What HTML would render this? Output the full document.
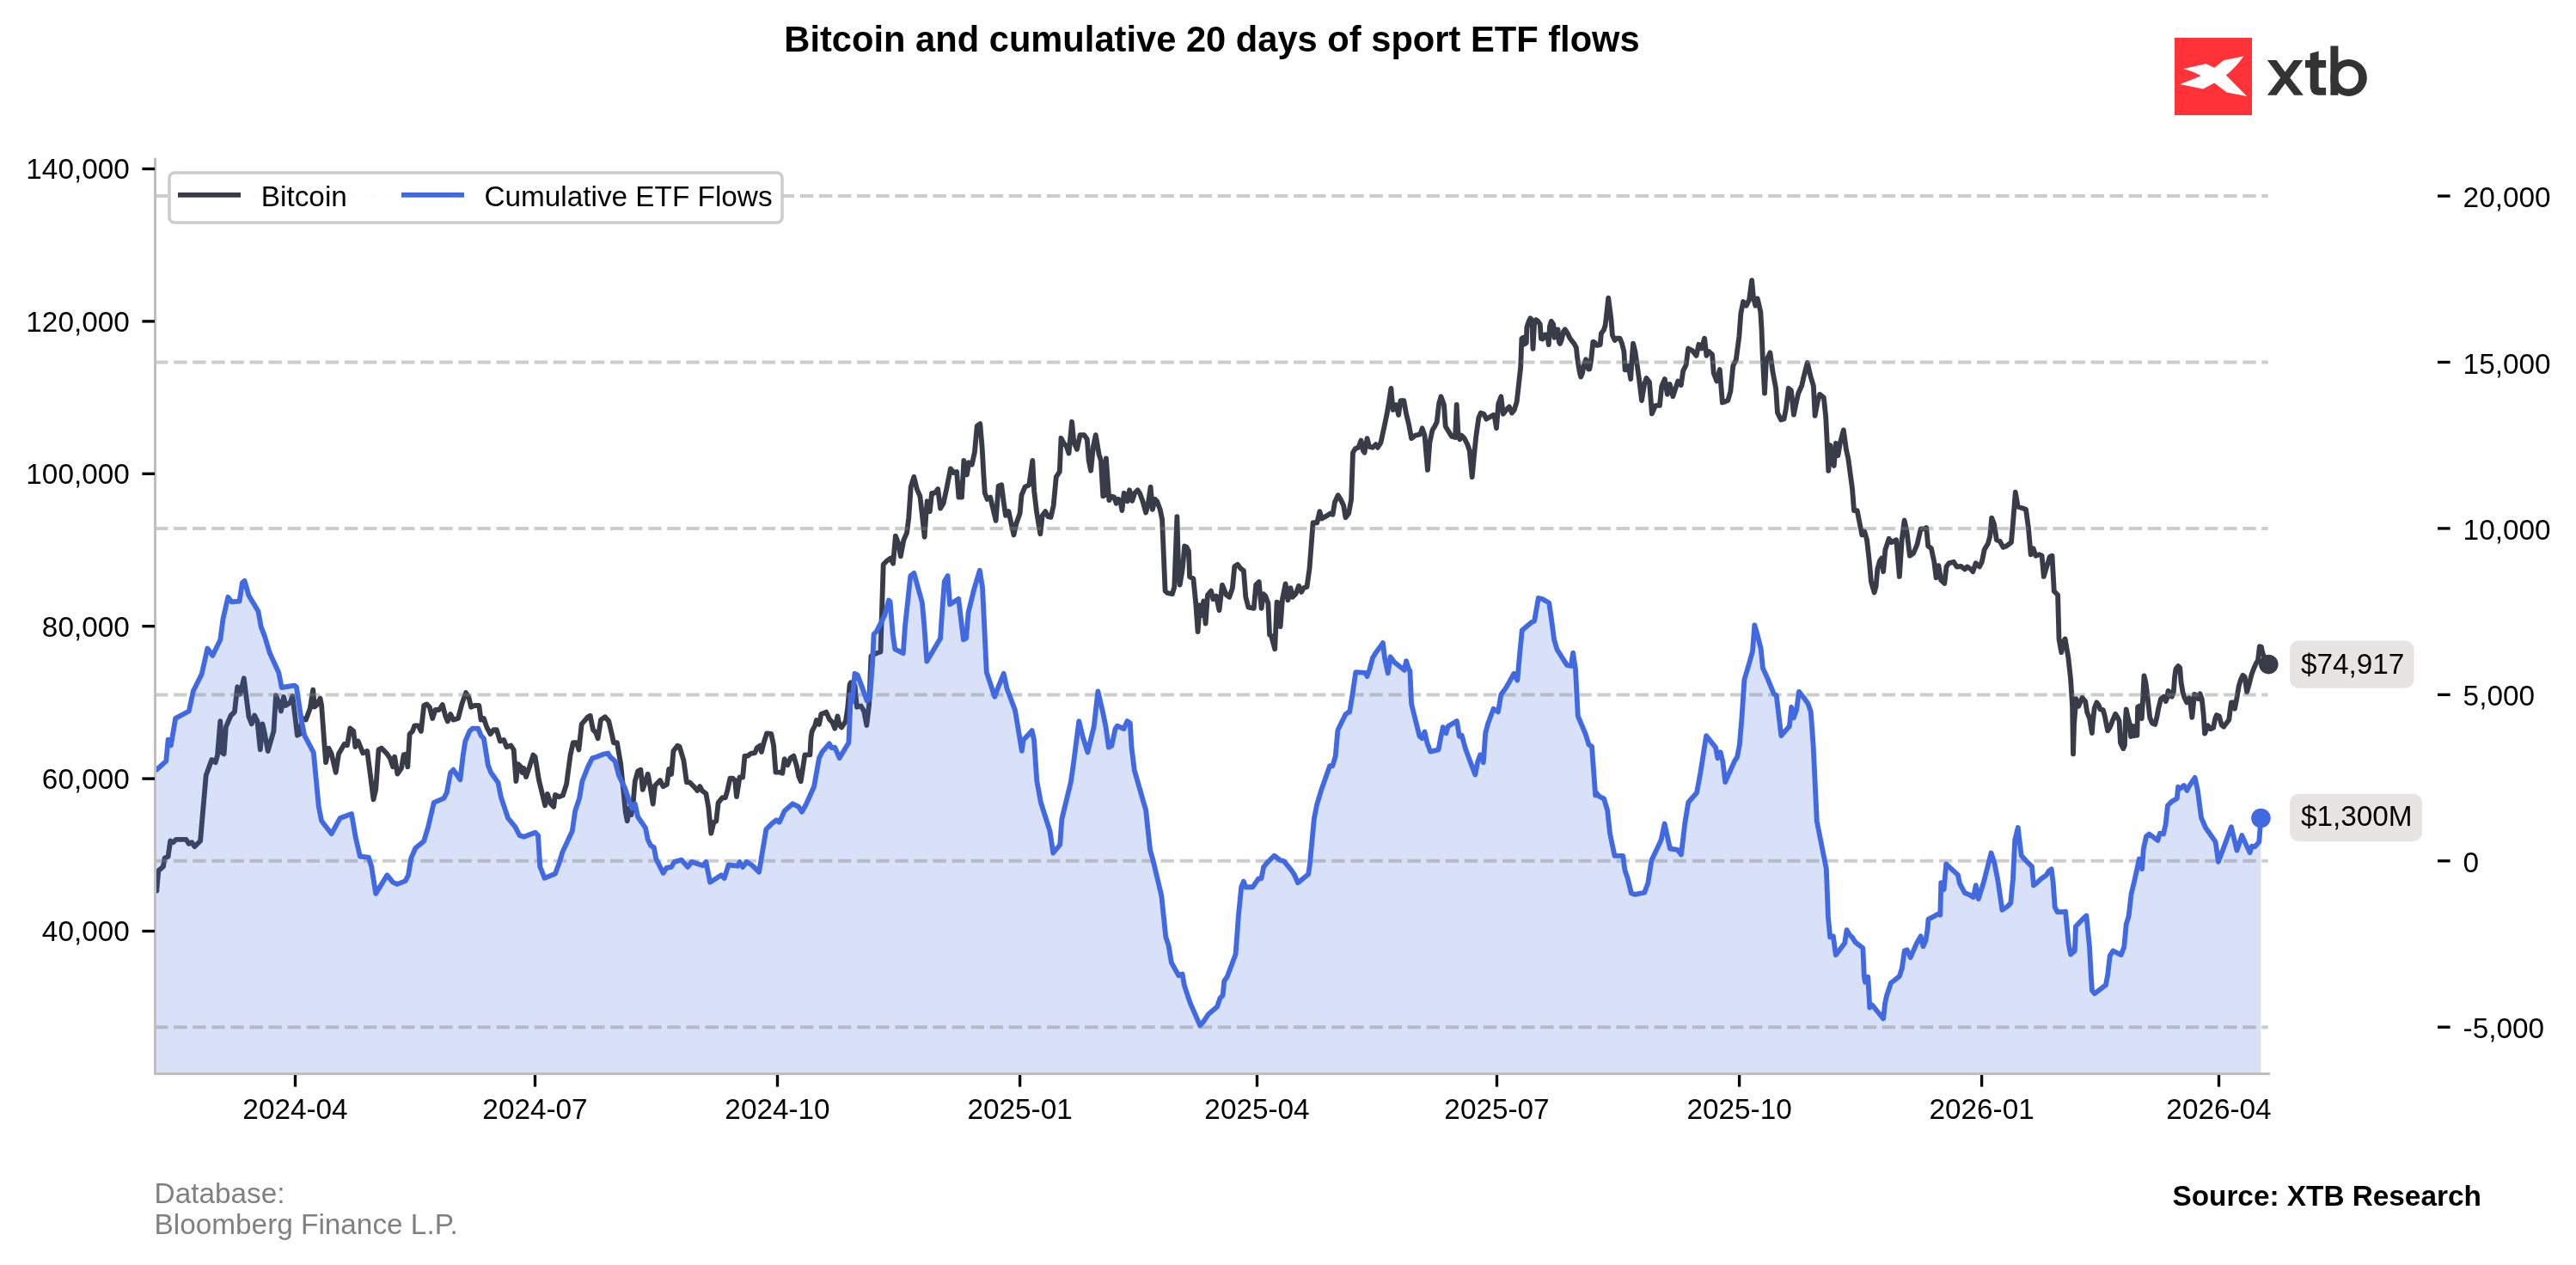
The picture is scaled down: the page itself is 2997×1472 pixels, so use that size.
<!DOCTYPE html>
<html><head><meta charset="utf-8"><title>Bitcoin and cumulative ETF flows</title>
<style>html,body{margin:0;padding:0;background:#fff;} svg{display:block;will-change:transform;}</style>
</head><body>
<svg width="2997" height="1472" viewBox="0 0 2997 1472">
<rect width="2997" height="1472" fill="#ffffff"/>
<text x="1410" y="60.2" text-anchor="middle" font-family='"Liberation Sans", sans-serif' font-weight="bold" font-size="41.67" fill="#000">Bitcoin and cumulative 20 days of sport ETF flows</text>
<rect x="2530" y="44" width="90" height="90" fill="#fe3237"/>
<path d="M2540.19,79.91 L2566.51,74.22 L2576.23,78.73 L2587.37,69.96 L2610.13,65.45 Q2601.65,78.14 2589.74,87.50 L2614.16,111.92 L2590.69,107.42 L2576.23,96.51 L2563.19,103.62 L2536.16,97.93 Q2549,93.5 2560.82,87.98 Q2551,82.5 2540.19,79.91 Z" fill="#ffffff"/>
<g fill="#333333"><polygon points="2637.8,70.1 2648.5,70.1 2658.6,83.8 2668.6,70.1 2679.3,70.1 2664.2,90.5 2679.9,110.8 2669.1,110.8 2658.6,96.9 2648.5,110.8 2637.8,110.8 2653.1,90.5"/><polygon points="2687.7,62.2 2697.6,59.6 2697.6,70.1 2706.1,70.1 2706.1,78.8 2697.6,78.8 2697.6,100.4 2698.2,101.5 2699.4,102.1 2706.1,102.1 2706.1,110.8 2696.8,110.8 2692.2,109.7 2689.2,106.8 2687.7,101.5 2687.7,78.8 2682.0,78.8 2682.0,70.1 2687.7,70.1"/><path d="M2711.4,53.4 L2720.4,53.4 L2720.4,110.8 L2711.4,110.8 Z"/><path fill-rule="evenodd" d="M2711.2,90.5 a21.3,21.5 0 1,0 42.6,0 a21.3,21.5 0 1,0 -42.6,0 Z M2720.4,90.3 a11.8,12.1 0 1,1 23.5,0 a11.8,12.1 0 1,1 -23.5,0 Z"/></g>
<path d="M180.5,1036.6 L182.3,1036.6 L184.3,1013.3 L189.9,1008.4 L191.6,998.4 L195.6,996.7 L198.2,978.5 L201.5,980.2 L204.9,976.8 L216.5,976.8 L219.8,981.8 L223.1,980.2 L226.4,985.1 L233.1,978.5 L239.7,902.2 L246.3,883.9 L250.7,887.2 L253.0,878.9 L256.3,839.1 L258.0,875.6 L260.6,877.3 L262.9,845.8 L268.6,832.5 L272.9,828.5 L276.2,799.3 L279.5,807.6 L283.8,789.3 L289.5,834.1 L292.8,842.4 L296.1,832.5 L299.4,839.1 L302.8,872.3 L305.4,842.4 L307.7,852.4 L311.7,874.0 L318.4,850.7 L321.0,809.2 L325.0,819.2 L327.0,827.5 L330.0,810.9 L332.6,820.9 L337.6,817.5 L340.3,809.9 L343.6,835.8 L345.9,855.7 L349.2,854.0 L351.5,835.8 L355.9,837.5 L360.8,824.2 L364.2,802.6 L365.8,822.5 L368.1,820.9 L372.5,812.6 L374.1,820.9 L377.4,865.7 L379.1,887.2 L382.4,870.6 L385.7,877.3 L390.7,898.8 L394.0,877.3 L400.7,865.7 L404.0,867.3 L407.3,847.4 L411.3,850.7 L413.3,869.0 L416.6,862.3 L420.6,872.3 L422.2,876.3 L427.2,874.0 L430.5,898.8 L434.5,930.4 L437.2,918.8 L440.5,872.3 L443.8,870.6 L450.4,877.3 L453.8,882.3 L457.1,892.2 L459.1,880.6 L462.4,900.5 L467.0,893.9 L469.7,878.3 L470.6,878.5 L472.3,877.5 L474.3,892.4 L476.6,854.2 L479.9,850.9 L482.3,844.3 L486.6,844.3 L489.9,850.9 L493.2,821.0 L496.5,819.4 L499.8,822.7 L503.2,836.0 L506.5,826.0 L510.8,826.0 L514.8,820.0 L518.1,832.7 L520.8,839.3 L524.1,831.0 L527.4,837.6 L533.0,836.0 L537.3,819.4 L542.0,806.1 L545.3,811.1 L548.0,822.7 L551.9,821.0 L557.3,821.0 L559.6,837.6 L562.9,836.0 L566.2,845.9 L570.5,854.2 L574.5,849.2 L577.8,849.2 L581.8,862.5 L586.1,860.9 L589.4,869.2 L594.4,867.5 L597.7,872.5 L600.4,909.0 L602.7,889.1 L606.0,892.4 L607.7,899.0 L609.4,894.0 L612.0,904.0 L616.0,892.4 L620.3,878.5 L622.6,880.8 L626.9,907.3 L630.9,923.9 L634.2,937.2 L636.9,923.9 L640.9,935.5 L644.2,938.8 L645.9,924.9 L650.2,927.2 L654.8,925.6 L659.1,912.3 L663.5,879.1 L666.8,864.2 L670.8,864.2 L673.4,872.5 L676.7,842.6 L684.0,834.3 L686.7,832.7 L690.0,849.2 L693.3,852.6 L695.6,859.2 L699.0,837.6 L703.9,834.3 L708.3,839.3 L712.2,855.9 L713.9,864.2 L717.9,864.2 L722.2,889.1 L724.5,912.3 L727.8,945.5 L729.8,955.4 L732.1,940.5 L734.5,948.1 L736.5,935.5 L738.8,909.0 L742.1,897.4 L745.4,895.7 L747.7,918.9 L751.1,909.0 L753.7,900.7 L755.4,909.0 L759.7,935.5 L762.1,914.0 L768.0,908.1 L771.6,915.2 L775.9,912.8 L778.2,895.0 L781.1,900.9 L783.5,873.7 L788.2,867.7 L790.6,868.9 L795.3,884.3 L798.9,910.4 L802.4,910.4 L807.2,915.2 L811.2,919.9 L814.3,915.2 L816.7,919.9 L821.4,923.5 L824.2,938.9 L827.3,969.7 L830.4,956.7 L833.3,955.5 L835.6,934.2 L840.4,928.2 L843.9,928.2 L846.3,919.9 L849.4,905.7 L852.7,905.7 L855.1,908.1 L857.0,927.0 L860.5,904.5 L864.1,904.5 L866.5,879.6 L870.0,879.6 L873.6,876.8 L878.3,876.0 L880.7,870.1 L884.2,867.7 L885.9,874.9 L889.0,863.0 L892.1,853.5 L897.3,854.0 L900.1,867.7 L902.5,898.6 L906.8,898.6 L910.3,899.8 L912.7,883.2 L916.3,890.3 L919.8,882.0 L923.4,879.6 L926.9,891.5 L929.3,903.3 L931.7,909.2 L934.1,893.8 L936.4,878.4 L942.4,878.4 L943.5,858.3 L944.7,851.1 L948.3,844.0 L949.9,838.1 L953.0,842.8 L955.4,831.0 L961.3,828.6 L964.9,836.9 L968.4,840.5 L971.3,847.6 L974.4,833.4 L976.7,844.0 L979.1,846.4 L983.9,839.3 L986.2,823.9 L988.6,796.6 L989.8,794.2 L994.5,797.8 L996.9,822.7 L1001.6,821.5 L1005.2,827.4 L1008.3,844.0 L1011.1,820.3 L1013.5,763.3 L1019.8,760.1 L1024.5,758.5 L1027.7,656.8 L1032.4,652.1 L1036.0,649.7 L1039.1,655.7 L1041.9,623.6 L1045.5,633.1 L1047.8,647.4 L1051.4,628.4 L1055.0,620.1 L1057.3,602.3 L1059.7,566.7 L1063.3,554.9 L1066.8,569.1 L1070.4,577.4 L1072.7,597.5 L1075.6,624.8 L1077.5,597.5 L1078.7,583.3 L1081.8,595.2 L1084.1,573.8 L1087.0,573.8 L1089.3,571.5 L1091.2,569.1 L1094.1,591.6 L1097.6,585.7 L1101.2,569.1 L1105.9,545.4 L1109.5,550.1 L1113.1,548.9 L1115.4,578.6 L1119.0,578.6 L1121.4,535.9 L1124.9,552.5 L1127.3,538.3 L1130.8,540.6 L1133.9,526.4 L1136.8,495.6 L1140.3,493.2 L1142.7,521.7 L1144.4,552.5 L1145.8,573.8 L1148.6,580.9 L1152.2,578.6 L1154.6,589.2 L1158.6,605.8 L1161.7,565.5 L1165.2,564.3 L1167.6,583.3 L1170.0,599.9 L1173.5,595.2 L1176.6,609.4 L1179.5,622.5 L1182.3,609.4 L1186.6,597.5 L1188.5,576.2 L1192.5,566.7 L1197.3,564.3 L1201.3,535.9 L1203.2,571.5 L1206.0,595.2 L1210.3,621.3 L1212.7,599.9 L1216.2,595.2 L1219.3,601.1 L1222.6,601.8 L1225.7,588.1 L1228.8,554.9 L1232.8,548.9 L1234.5,509.8 L1237.6,515.7 L1240.7,519.3 L1243.5,527.6 L1247.1,490.8 L1249.4,514.5 L1253.0,522.8 L1256.5,506.2 L1261.3,506.2 L1264.8,511.0 L1266.7,535.9 L1269.1,547.7 L1272.0,519.3 L1274.8,506.2 L1278.6,528.8 L1280.9,535.9 L1283.3,577.4 L1285.7,576.2 L1286.9,533.5 L1288.8,559.6 L1290.4,582.1 L1292.8,577.4 L1296.3,578.6 L1298.7,585.7 L1301.1,580.9 L1303.5,583.3 L1305.4,594.0 L1307.7,573.8 L1310.1,576.2 L1311.8,583.3 L1314.1,570.3 L1317.2,582.8 L1320.1,573.8 L1323.6,570.3 L1326.0,573.8 L1329.5,583.3 L1333.1,596.4 L1335.5,588.1 L1338.6,566.7 L1340.9,592.8 L1343.8,580.9 L1346.1,583.3 L1349.7,592.8 L1352.1,604.7 L1355.6,687.7 L1358.0,690.0 L1363.9,691.2 L1366.3,682.9 L1369.4,601.1 L1371.0,659.2 L1372.7,680.6 L1375.8,661.6 L1378.2,635.5 L1380.5,636.7 L1382.9,641.4 L1384.1,671.1 L1388.4,673.4 L1391.2,701.9 L1393.6,735.1 L1395.9,704.3 L1398.3,716.1 L1400.2,699.5 L1402.6,725.6 L1405.0,692.4 L1409.0,687.7 L1411.4,697.2 L1414.9,693.6 L1418.5,710.2 L1422.0,680.6 L1426.8,692.4 L1430.3,694.8 L1433.9,684.1 L1436.3,659.2 L1439.8,656.8 L1443.4,661.6 L1446.9,664.0 L1449.3,694.8 L1452.4,706.6 L1458.8,707.8 L1461.2,680.6 L1464.7,677.0 L1467.6,707.8 L1469.9,691.2 L1472.3,693.6 L1475.4,701.9 L1477.1,738.7 L1479.0,739.8 L1483.2,755.3 L1485.6,700.7 L1488.0,701.9 L1489.6,729.2 L1492.0,697.2 L1495.6,679.4 L1498.4,698.3 L1501.5,684.1 L1503.9,694.8 L1507.4,691.2 L1511.0,681.7 L1514.1,688.9 L1516.9,684.1 L1520.5,682.9 L1523.5,661.6 L1527.6,608.2 L1532.3,608.2 L1535.4,595.2 L1537.8,603.5 L1544.2,599.9 L1547.7,597.5 L1550.6,598.7 L1552.9,584.5 L1556.7,576.2 L1559.6,580.9 L1563.1,588.1 L1565.5,602.3 L1569.1,597.5 L1572.1,581.3 L1574.0,526.7 L1576.9,522.0 L1580.4,520.8 L1583.5,512.5 L1585.9,524.3 L1587.5,526.7 L1590.6,510.1 L1593.0,519.6 L1597.0,520.8 L1600.6,517.2 L1602.9,520.8 L1606.5,514.9 L1610.1,498.3 L1613.6,481.7 L1616.0,467.4 L1618.4,452.0 L1620.7,476.9 L1624.3,471.0 L1627.1,482.8 L1629.5,466.2 L1633.3,466.2 L1636.1,481.7 L1639.0,493.5 L1642.1,510.1 L1646.8,506.6 L1652.3,505.4 L1654.6,498.3 L1657.5,506.6 L1659.4,529.1 L1661.0,546.9 L1663.4,514.9 L1666.5,500.6 L1669.3,495.9 L1671.7,491.1 L1674.1,469.8 L1676.5,461.5 L1680.0,471.0 L1681.7,495.9 L1685.9,503.0 L1688.8,507.7 L1693.1,508.9 L1694.7,471.0 L1696.6,507.7 L1698.3,511.3 L1700.2,506.6 L1703.7,510.1 L1707.3,517.2 L1709.7,524.3 L1712.7,555.2 L1714.9,531.5 L1717.3,507.7 L1720.3,486.4 L1722.7,480.5 L1726.3,481.7 L1729.3,487.6 L1733.4,485.2 L1737.6,482.8 L1739.3,487.6 L1741.0,498.3 L1743.3,469.8 L1746.4,461.5 L1748.8,481.7 L1752.4,476.9 L1755.9,473.4 L1759.0,480.5 L1761.8,476.9 L1764.7,467.4 L1769.2,427.2 L1770.4,394.0 L1772.2,392.8 L1773.4,400.6 L1775.8,398.8 L1776.3,381.0 L1778.7,373.9 L1780.5,370.3 L1782.3,372.7 L1783.5,405.9 L1785.2,375.1 L1787.0,372.1 L1789.4,373.9 L1791.8,377.4 L1792.9,394.0 L1794.7,394.6 L1797.7,389.3 L1800.1,389.3 L1801.8,401.1 L1803.0,379.8 L1804.8,373.9 L1807.2,377.4 L1808.4,392.8 L1810.1,383.4 L1812.5,383.4 L1813.7,397.6 L1814.9,400.0 L1816.7,395.8 L1819.0,385.7 L1820.8,383.4 L1823.2,386.9 L1826.1,392.8 L1828.5,396.4 L1831.5,400.0 L1833.9,404.7 L1835.0,415.4 L1836.2,423.7 L1838.0,434.3 L1839.2,438.5 L1841.0,434.3 L1842.7,424.9 L1845.1,418.3 L1846.9,423.7 L1848.1,429.6 L1849.3,429.6 L1851.0,420.1 L1853.4,397.6 L1855.8,398.8 L1857.0,401.7 L1859.3,401.7 L1861.7,401.1 L1862.9,388.1 L1864.1,386.3 L1865.9,384.0 L1867.6,378.6 L1868.8,369.1 L1871.2,346.6 L1874.4,371.1 L1875.9,390.1 L1878.7,396.0 L1881.1,393.7 L1884.6,393.7 L1887.0,399.6 L1889.4,409.1 L1890.6,430.4 L1892.9,430.4 L1894.8,425.7 L1897.2,441.1 L1898.9,413.8 L1900.1,399.6 L1902.4,409.1 L1904.8,425.7 L1907.2,442.3 L1910.0,466.0 L1913.1,447.0 L1915.5,439.9 L1919.0,444.7 L1921.9,481.4 L1926.1,471.9 L1930.9,471.9 L1933.3,449.4 L1936.8,441.1 L1939.9,458.9 L1942.7,447.0 L1946.3,461.3 L1949.4,451.8 L1952.2,443.5 L1955.8,448.2 L1958.2,431.6 L1961.7,424.5 L1964.1,405.5 L1968.8,407.9 L1973.6,413.8 L1976.4,400.8 L1979.5,405.5 L1983.1,393.7 L1985.4,413.8 L1988.3,409.1 L1992.1,412.6 L1993.7,434.0 L1997.3,443.5 L2000.8,430.0 L2003.9,468.4 L2010.3,466.0 L2013.4,455.3 L2016.3,425.7 L2019.8,418.6 L2023.4,391.3 L2025.3,365.2 L2028.1,351.0 L2031.7,355.7 L2035.2,348.6 L2038.1,326.1 L2040.0,346.2 L2042.4,355.7 L2044.7,347.4 L2048.3,362.8 L2049.5,383.0 L2050.7,413.8 L2053.0,457.7 L2054.7,423.3 L2056.6,416.2 L2059.4,410.3 L2062.5,432.8 L2066.1,451.8 L2068.0,480.2 L2072.0,488.5 L2075.6,487.4 L2077.9,475.5 L2080.8,451.8 L2083.9,454.2 L2086.9,482.6 L2089.3,470.8 L2092.2,457.7 L2096.4,448.2 L2098.8,437.5 L2102.8,422.1 L2106.4,437.5 L2109.9,449.4 L2111.6,483.8 L2114.7,467.2 L2117.1,458.9 L2121.8,462.5 L2124.2,485.0 L2125.4,508.7 L2127.3,547.8 L2129.6,518.2 L2131.3,537.2 L2133.7,541.9 L2136.0,515.8 L2138.4,530.0 L2140.8,515.8 L2144.8,500.4 L2147.9,522.9 L2150.3,533.6 L2155.0,568.5 L2157.0,594.1 L2160.7,594.1 L2163.5,608.3 L2166.3,622.5 L2169.2,618.3 L2172.0,628.2 L2174.9,653.9 L2176.9,676.6 L2180.6,689.4 L2182.6,682.3 L2184.3,662.4 L2187.1,652.4 L2189.1,649.6 L2191.1,665.2 L2193.4,639.6 L2197.7,626.8 L2200.5,631.1 L2206.2,628.2 L2209.9,670.9 L2212.7,628.2 L2215.6,605.5 L2218.4,618.3 L2221.9,646.7 L2226.1,643.9 L2230.4,633.9 L2234.7,615.4 L2238.9,615.4 L2241.2,614.0 L2243.2,635.4 L2246.9,638.2 L2250.3,653.9 L2252.6,672.4 L2255.4,658.1 L2258.3,675.2 L2262.3,678.9 L2264.5,659.5 L2267.4,655.3 L2273.1,653.9 L2276.5,659.5 L2281.6,659.0 L2285.9,662.4 L2288.7,659.5 L2293.0,662.4 L2295.3,665.2 L2298.7,655.3 L2303.0,659.5 L2305.8,653.9 L2308.7,639.6 L2312.9,632.5 L2315.2,624.0 L2317.2,602.6 L2320.0,609.7 L2322.9,628.2 L2326.6,629.7 L2330.6,636.8 L2334.3,635.4 L2340.0,631.1 L2342.0,608.3 L2344.8,572.7 L2347.7,589.8 L2352.8,591.2 L2357.0,592.7 L2359.9,614.0 L2362.7,645.3 L2365.6,638.2 L2368.4,646.7 L2372.7,645.3 L2375.6,646.7 L2377.8,670.9 L2381.2,659.5 L2384.7,648.2 L2387.5,646.7 L2389.8,688.0 L2394.1,692.3 L2395.5,743.5 L2398.3,759.2 L2400.6,746.4 L2402.6,743.5 L2406.3,764.9 L2409.1,790.5 L2411.1,821.8 L2412.0,877.3 L2413.1,841.7 L2415.4,813.2 L2418.2,821.8 L2422.5,811.8 L2426.2,816.1 L2428.2,828.9 L2431.1,836.0 L2433.9,853.1 L2434.7,841.5 L2436.7,824.1 L2439.4,817.4 L2442.1,821.4 L2443.4,825.4 L2446.8,826.1 L2448.8,833.5 L2452.2,850.3 L2454.9,846.2 L2458.2,837.5 L2461.2,830.8 L2463.6,834.8 L2465.6,838.9 L2467.0,864.4 L2470.3,871.1 L2471.9,867.1 L2473.0,836.2 L2473.7,825.4 L2475.7,834.8 L2477.7,842.2 L2479.1,857.0 L2481.1,844.9 L2482.7,856.3 L2484.4,844.9 L2486.4,855.7 L2487.1,822.7 L2489.8,821.4 L2491.8,836.2 L2493.2,812.0 L2494.5,786.4 L2496.5,794.5 L2498.5,810.6 L2501.2,834.8 L2503.9,841.5 L2507.3,842.9 L2509.3,834.8 L2511.3,824.1 L2514.0,813.3 L2517.4,810.6 L2519.8,816.0 L2521.4,812.0 L2522.5,803.9 L2524.1,805.3 L2526.8,810.6 L2528.8,805.3 L2530.1,787.8 L2531.5,778.4 L2534.2,775.0 L2536.2,777.0 L2537.5,793.2 L2539.5,805.3 L2541.5,812.0 L2544.2,817.4 L2546.9,812.0 L2548.3,817.4 L2550.3,834.8 L2551.6,822.7 L2553.0,807.9 L2556.3,809.3 L2557.9,813.3 L2559.7,807.3 L2561.7,813.3 L2563.7,832.1 L2565.1,853.6 L2567.1,848.3 L2568.7,844.2 L2571.8,848.3 L2575.1,846.9 L2577.2,836.2 L2578.9,832.1 L2581.9,833.5 L2584.6,843.6 L2587.2,845.6 L2591.3,840.2 L2593.3,837.5 L2594.6,826.8 L2596.0,817.4 L2598.7,817.4 L2600.0,824.7 L2602.7,810.6 L2604.7,798.5 L2607.1,790.5 L2609.4,785.8 L2611.7,787.8 L2614.1,805.3 L2616.8,795.9 L2619.5,785.1 L2622.2,777.7 L2624.9,771.7 L2626.9,769.0 L2628.9,752.2 L2630.9,752.8 L2632.3,759.6 L2634.3,764.9 L2639.3,773.1" fill="none" stroke="#383c48" stroke-width="5.85" stroke-linejoin="round" stroke-linecap="butt"/>
<path d="M180.5,895.5 L182.3,895.5 L193.3,885.6 L195.6,860.7 L198.9,867.3 L204.2,835.8 L219.8,827.5 L224.8,804.3 L234.7,784.4 L241.4,754.5 L247.3,762.8 L256.3,744.5 L259.6,719.6 L265.3,694.8 L269.6,700.4 L278.5,699.7 L281.9,678.2 L284.5,675.8 L289.5,693.1 L300.4,711.3 L303.8,729.6 L307.7,739.6 L313.7,759.5 L324.3,782.7 L327.7,800.0 L342.6,797.6 L344.9,799.3 L350.9,839.1 L354.2,855.7 L364.8,875.6 L370.8,938.7 L374.1,955.3 L385.7,970.2 L395.7,951.9 L409.0,947.0 L413.9,975.2 L418.9,996.7 L428.9,997.7 L432.2,1008.4 L437.2,1039.9 L450.4,1018.3 L457.1,1026.6 L462.1,1028.9 L471.6,1025.1 L475.0,1018.5 L478.3,998.6 L483.3,987.0 L493.2,978.7 L498.2,962.1 L504.8,933.9 L516.4,928.9 L519.8,922.3 L524.1,899.0 L527.4,895.7 L535.4,907.3 L538.7,879.1 L541.3,862.5 L546.3,850.9 L549.6,847.6 L556.3,847.6 L559.6,855.9 L562.9,859.2 L567.9,890.7 L571.2,899.0 L579.5,910.6 L582.8,927.2 L591.1,952.1 L599.4,962.1 L604.4,972.0 L609.4,973.7 L622.6,968.7 L626.0,972.0 L628.3,1008.5 L633.6,1021.8 L645.9,1016.8 L650.8,1003.6 L654.2,991.9 L665.8,967.1 L669.1,943.8 L674.1,928.9 L677.4,909.0 L684.0,892.4 L689.0,882.4 L694.0,880.8 L702.3,877.5 L707.3,876.5 L709.9,880.8 L715.6,885.8 L719.9,902.3 L727.2,917.3 L732.1,932.2 L735.5,940.5 L738.8,935.5 L742.1,950.5 L751.1,963.7 L753.7,977.0 L757.0,983.7 L760.9,986.3 L763.3,999.4 L771.6,1016.0 L775.2,1010.0 L781.1,1008.9 L784.6,1002.9 L792.9,1000.6 L800.1,1008.9 L804.8,1002.9 L817.8,1007.2 L821.4,1002.9 L826.1,1026.6 L839.2,1018.3 L842.7,1021.9 L847.5,1006.5 L858.2,1007.7 L860.5,1002.9 L864.1,1008.9 L868.8,1002.9 L875.9,1007.7 L883.1,1014.8 L891.4,965.0 L897.3,959.1 L903.2,954.3 L906.8,956.7 L912.7,943.6 L922.2,935.3 L929.3,938.9 L932.9,944.8 L937.6,936.5 L947.1,915.2 L953.0,882.0 L956.6,874.9 L964.9,865.4 L967.3,870.1 L971.3,869.6 L976.7,882.0 L987.4,864.2 L989.8,808.5 L991.3,817.0 L994.5,783.8 L997.6,785.4 L1002.4,798.1 L1008.7,815.4 L1011.9,812.3 L1015.0,772.8 L1016.6,738.0 L1019.8,734.8 L1029.3,715.9 L1034.0,698.5 L1035.6,700.1 L1038.7,738.0 L1041.3,755.4 L1050.8,760.1 L1053.0,728.5 L1059.3,670.0 L1063.4,666.9 L1072.9,701.6 L1075.1,725.4 L1078.3,769.6 L1094.1,742.7 L1095.6,719.0 L1098.8,676.4 L1102.6,670.0 L1105.1,703.2 L1115.2,696.9 L1120.9,744.3 L1124.1,742.7 L1126.6,712.7 L1133.6,684.3 L1139.9,663.7 L1143.1,684.3 L1147.8,782.3 L1157.3,810.7 L1162.0,798.1 L1167.7,783.8 L1171.5,801.2 L1181.0,826.5 L1188.9,873.9 L1190.5,861.3 L1200.6,850.2 L1203.1,861.3 L1206.3,908.7 L1211.0,934.0 L1221.5,967.2 L1225.3,992.5 L1233.2,983.0 L1235.4,953.0 L1245.8,910.3 L1249.0,888.2 L1255.3,839.2 L1260.0,858.1 L1265.4,875.5 L1272.7,845.5 L1277.4,804.4 L1283.3,829.8 L1286.6,846.4 L1289.9,869.6 L1293.3,867.9 L1297.6,848.0 L1299.9,844.7 L1307.5,848.0 L1311.5,839.1 L1314.8,841.4 L1316.5,869.6 L1319.8,896.2 L1326.4,919.4 L1333.1,942.6 L1338.1,989.1 L1341.4,1000.7 L1351.3,1042.2 L1356.3,1090.3 L1359.6,1100.2 L1362.9,1120.2 L1371.2,1135.1 L1375.6,1133.4 L1377.9,1146.7 L1384.5,1166.6 L1396.1,1193.2 L1399.4,1189.8 L1406.1,1179.9 L1416.0,1171.6 L1419.4,1161.6 L1422.7,1158.3 L1424.3,1141.7 L1427.7,1136.7 L1437.6,1110.2 L1440.9,1065.4 L1444.2,1032.2 L1446.9,1025.6 L1449.2,1032.2 L1457.5,1032.2 L1464.2,1022.3 L1467.5,1022.3 L1470.1,1009.0 L1474.1,1004.0 L1482.4,995.7 L1489.0,1000.7 L1494.0,1002.3 L1502.3,1012.3 L1505.6,1017.3 L1510.0,1027.2 L1522.2,1017.3 L1523.9,1005.7 L1528.9,952.6 L1532.2,936.0 L1537.2,919.4 L1547.1,891.2 L1550.4,891.2 L1553.8,879.6 L1556.4,849.7 L1560.4,841.4 L1565.4,831.4 L1569.7,828.1 L1570.2,828.4 L1573.3,809.4 L1577.3,782.1 L1588.2,782.8 L1590.6,786.9 L1593.5,778.6 L1597.0,765.5 L1600.6,759.6 L1608.9,748.2 L1611.2,766.7 L1614.8,783.3 L1617.6,764.3 L1621.9,770.3 L1627.8,775.0 L1633.8,779.8 L1636.1,769.1 L1638.5,777.4 L1640.4,780.9 L1642.1,818.9 L1646.8,837.9 L1651.6,856.8 L1654.6,859.2 L1657.5,851.6 L1660.3,864.0 L1664.1,874.6 L1673.6,872.3 L1676.0,859.2 L1678.8,846.2 L1682.4,853.3 L1684.8,845.0 L1695.0,839.1 L1697.8,856.8 L1700.7,855.7 L1704.9,871.1 L1709.7,884.1 L1716.3,901.4 L1719.2,886.5 L1722.2,878.2 L1725.8,887.2 L1728.2,853.3 L1731.0,842.6 L1737.6,824.8 L1742.9,828.4 L1746.4,808.2 L1752.4,799.9 L1761.4,783.8 L1765.4,791.6 L1767.8,764.3 L1770.8,733.5 L1782.0,724.0 L1785.1,722.8 L1789.8,696.0 L1793.9,696.8 L1802.2,701.5 L1804.5,716.9 L1808.1,744.2 L1811.6,756.0 L1823.0,773.8 L1827.8,775.0 L1830.1,759.6 L1833.0,778.6 L1835.8,833.1 L1844.8,854.5 L1848.4,866.3 L1852.0,868.7 L1856.2,925.6 L1857.2,922.5 L1860.5,926.6 L1866.1,929.4 L1870.2,943.2 L1873.0,969.5 L1878.5,995.8 L1888.2,995.8 L1890.4,1012.4 L1893.7,1022.1 L1897.9,1039.3 L1902.0,1040.9 L1913.1,1038.7 L1917.3,1027.6 L1921.4,1001.3 L1932.5,977.8 L1936.6,958.5 L1943.0,987.5 L1951.9,988.9 L1956.0,994.4 L1960.2,958.5 L1964.3,933.5 L1974.0,922.5 L1978.2,900.3 L1985.1,856.1 L1996.1,869.9 L1998.4,882.3 L2001.7,875.4 L2004.4,886.5 L2007.2,910.0 L2018.3,885.1 L2021.1,881.0 L2023.8,867.1 L2026.6,833.9 L2029.4,791.0 L2036.3,767.5 L2039.0,757.8 L2041.3,727.4 L2044.6,738.4 L2048.7,755.0 L2050.9,777.2 L2056.5,789.6 L2063.9,807.6 L2066.7,809.0 L2072.3,856.1 L2081.9,845.0 L2084.2,822.8 L2086.9,835.3 L2090.2,825.6 L2093.0,804.9 L2098.5,811.8 L2103.5,818.7 L2106.8,828.4 L2109.6,867.1 L2113.8,955.7 L2124.8,1011.0 L2125.9,1039.1 L2126.9,1066.7 L2129.2,1090.4 L2132.8,1089.4 L2135.8,1111.2 L2146.2,1097.4 L2148.6,1082.1 L2151.6,1087.5 L2155.5,1091.4 L2158.5,1096.4 L2167.4,1103.3 L2168.8,1135.9 L2169.9,1142.8 L2173.3,1136.9 L2175.3,1172.5 L2178.2,1169.5 L2191.1,1185.3 L2193.1,1167.5 L2195.0,1158.6 L2200.0,1143.8 L2203.9,1140.8 L2209.9,1135.9 L2212.8,1127.0 L2215.8,1106.2 L2218.8,1105.3 L2222.7,1114.2 L2229.6,1098.3 L2234.6,1089.4 L2237.5,1101.3 L2240.5,1094.4 L2242.5,1081.5 L2243.5,1069.7 L2249.4,1066.7 L2254.3,1063.8 L2257.3,1064.7 L2258.3,1027.2 L2261.6,1035.1 L2264.2,1005.5 L2276.1,1016.3 L2278.0,1018.3 L2280.0,1028.2 L2285.9,1039.1 L2290.9,1041.0 L2295.8,1044.0 L2298.8,1030.2 L2301.8,1046.0 L2307.7,1027.2 L2316.6,992.6 L2320.5,1004.5 L2324.5,1025.2 L2329.4,1058.8 L2335.4,1054.9 L2339.3,1050.9 L2341.9,1023.2 L2344.2,977.8 L2347.8,963.0 L2350.2,983.7 L2351.8,995.6 L2356.1,1000.5 L2364.0,1008.4 L2366.0,1030.2 L2369.9,1027.2 L2373.9,1023.2 L2380.8,1018.3 L2383.8,1013.4 L2386.7,1011.4 L2388.7,1027.2 L2390.7,1055.4 L2393.6,1061.3 L2403.1,1060.8 L2406.7,1098.1 L2409.1,1110.6 L2413.8,1106.4 L2415.0,1077.9 L2424.5,1067.9 L2427.4,1065.5 L2431.0,1101.7 L2432.8,1134.9 L2434.0,1152.6 L2436.9,1156.2 L2450.0,1146.1 L2452.3,1133.7 L2454.7,1112.3 L2458.3,1106.4 L2467.7,1111.1 L2471.3,1101.7 L2473.7,1075.6 L2476.6,1066.1 L2479.6,1040.0 L2483.0,1026.1 L2486.3,1011.1 L2488.8,999.5 L2492.1,1011.1 L2493.8,987.9 L2497.1,973.0 L2500.4,970.5 L2510.4,977.9 L2512.9,969.6 L2517.0,970.5 L2519.5,959.7 L2522.0,937.3 L2526.2,933.1 L2532.8,929.0 L2534.1,915.7 L2537.0,917.4 L2540.8,914.0 L2544.4,919.8 L2546.9,914.9 L2553.6,904.9 L2556.9,919.8 L2561.0,951.4 L2566.0,963.0 L2577.6,979.6 L2580.9,1002.8 L2588.4,982.9 L2595.9,962.2 L2602.5,989.6 L2608.3,972.1 L2617.5,992.1 L2620.0,984.6 L2623.3,985.4 L2628.3,979.6 L2630.4,952.1 L2630.4,1249.5 L180.5,1249.5 Z" fill="#4169e1" fill-opacity="0.2" stroke="none"/>
<line x1="180" y1="228.1" x2="2638.7" y2="228.1" stroke="#808080" stroke-opacity="0.4" stroke-width="4" stroke-dasharray="15.417 6.667"/>
<line x1="180" y1="421.5" x2="2638.7" y2="421.5" stroke="#808080" stroke-opacity="0.4" stroke-width="4" stroke-dasharray="15.417 6.667"/>
<line x1="180" y1="614.9" x2="2638.7" y2="614.9" stroke="#808080" stroke-opacity="0.4" stroke-width="4" stroke-dasharray="15.417 6.667"/>
<line x1="180" y1="808.4" x2="2638.7" y2="808.4" stroke="#808080" stroke-opacity="0.4" stroke-width="4" stroke-dasharray="15.417 6.667"/>
<line x1="180" y1="1001.8" x2="2638.7" y2="1001.8" stroke="#808080" stroke-opacity="0.4" stroke-width="4" stroke-dasharray="15.417 6.667"/>
<line x1="180" y1="1195.2" x2="2638.7" y2="1195.2" stroke="#808080" stroke-opacity="0.4" stroke-width="4" stroke-dasharray="15.417 6.667"/>
<path d="M180.5,895.5 L182.3,895.5 L193.3,885.6 L195.6,860.7 L198.9,867.3 L204.2,835.8 L219.8,827.5 L224.8,804.3 L234.7,784.4 L241.4,754.5 L247.3,762.8 L256.3,744.5 L259.6,719.6 L265.3,694.8 L269.6,700.4 L278.5,699.7 L281.9,678.2 L284.5,675.8 L289.5,693.1 L300.4,711.3 L303.8,729.6 L307.7,739.6 L313.7,759.5 L324.3,782.7 L327.7,800.0 L342.6,797.6 L344.9,799.3 L350.9,839.1 L354.2,855.7 L364.8,875.6 L370.8,938.7 L374.1,955.3 L385.7,970.2 L395.7,951.9 L409.0,947.0 L413.9,975.2 L418.9,996.7 L428.9,997.7 L432.2,1008.4 L437.2,1039.9 L450.4,1018.3 L457.1,1026.6 L462.1,1028.9 L471.6,1025.1 L475.0,1018.5 L478.3,998.6 L483.3,987.0 L493.2,978.7 L498.2,962.1 L504.8,933.9 L516.4,928.9 L519.8,922.3 L524.1,899.0 L527.4,895.7 L535.4,907.3 L538.7,879.1 L541.3,862.5 L546.3,850.9 L549.6,847.6 L556.3,847.6 L559.6,855.9 L562.9,859.2 L567.9,890.7 L571.2,899.0 L579.5,910.6 L582.8,927.2 L591.1,952.1 L599.4,962.1 L604.4,972.0 L609.4,973.7 L622.6,968.7 L626.0,972.0 L628.3,1008.5 L633.6,1021.8 L645.9,1016.8 L650.8,1003.6 L654.2,991.9 L665.8,967.1 L669.1,943.8 L674.1,928.9 L677.4,909.0 L684.0,892.4 L689.0,882.4 L694.0,880.8 L702.3,877.5 L707.3,876.5 L709.9,880.8 L715.6,885.8 L719.9,902.3 L727.2,917.3 L732.1,932.2 L735.5,940.5 L738.8,935.5 L742.1,950.5 L751.1,963.7 L753.7,977.0 L757.0,983.7 L760.9,986.3 L763.3,999.4 L771.6,1016.0 L775.2,1010.0 L781.1,1008.9 L784.6,1002.9 L792.9,1000.6 L800.1,1008.9 L804.8,1002.9 L817.8,1007.2 L821.4,1002.9 L826.1,1026.6 L839.2,1018.3 L842.7,1021.9 L847.5,1006.5 L858.2,1007.7 L860.5,1002.9 L864.1,1008.9 L868.8,1002.9 L875.9,1007.7 L883.1,1014.8 L891.4,965.0 L897.3,959.1 L903.2,954.3 L906.8,956.7 L912.7,943.6 L922.2,935.3 L929.3,938.9 L932.9,944.8 L937.6,936.5 L947.1,915.2 L953.0,882.0 L956.6,874.9 L964.9,865.4 L967.3,870.1 L971.3,869.6 L976.7,882.0 L987.4,864.2 L989.8,808.5 L991.3,817.0 L994.5,783.8 L997.6,785.4 L1002.4,798.1 L1008.7,815.4 L1011.9,812.3 L1015.0,772.8 L1016.6,738.0 L1019.8,734.8 L1029.3,715.9 L1034.0,698.5 L1035.6,700.1 L1038.7,738.0 L1041.3,755.4 L1050.8,760.1 L1053.0,728.5 L1059.3,670.0 L1063.4,666.9 L1072.9,701.6 L1075.1,725.4 L1078.3,769.6 L1094.1,742.7 L1095.6,719.0 L1098.8,676.4 L1102.6,670.0 L1105.1,703.2 L1115.2,696.9 L1120.9,744.3 L1124.1,742.7 L1126.6,712.7 L1133.6,684.3 L1139.9,663.7 L1143.1,684.3 L1147.8,782.3 L1157.3,810.7 L1162.0,798.1 L1167.7,783.8 L1171.5,801.2 L1181.0,826.5 L1188.9,873.9 L1190.5,861.3 L1200.6,850.2 L1203.1,861.3 L1206.3,908.7 L1211.0,934.0 L1221.5,967.2 L1225.3,992.5 L1233.2,983.0 L1235.4,953.0 L1245.8,910.3 L1249.0,888.2 L1255.3,839.2 L1260.0,858.1 L1265.4,875.5 L1272.7,845.5 L1277.4,804.4 L1283.3,829.8 L1286.6,846.4 L1289.9,869.6 L1293.3,867.9 L1297.6,848.0 L1299.9,844.7 L1307.5,848.0 L1311.5,839.1 L1314.8,841.4 L1316.5,869.6 L1319.8,896.2 L1326.4,919.4 L1333.1,942.6 L1338.1,989.1 L1341.4,1000.7 L1351.3,1042.2 L1356.3,1090.3 L1359.6,1100.2 L1362.9,1120.2 L1371.2,1135.1 L1375.6,1133.4 L1377.9,1146.7 L1384.5,1166.6 L1396.1,1193.2 L1399.4,1189.8 L1406.1,1179.9 L1416.0,1171.6 L1419.4,1161.6 L1422.7,1158.3 L1424.3,1141.7 L1427.7,1136.7 L1437.6,1110.2 L1440.9,1065.4 L1444.2,1032.2 L1446.9,1025.6 L1449.2,1032.2 L1457.5,1032.2 L1464.2,1022.3 L1467.5,1022.3 L1470.1,1009.0 L1474.1,1004.0 L1482.4,995.7 L1489.0,1000.7 L1494.0,1002.3 L1502.3,1012.3 L1505.6,1017.3 L1510.0,1027.2 L1522.2,1017.3 L1523.9,1005.7 L1528.9,952.6 L1532.2,936.0 L1537.2,919.4 L1547.1,891.2 L1550.4,891.2 L1553.8,879.6 L1556.4,849.7 L1560.4,841.4 L1565.4,831.4 L1569.7,828.1 L1570.2,828.4 L1573.3,809.4 L1577.3,782.1 L1588.2,782.8 L1590.6,786.9 L1593.5,778.6 L1597.0,765.5 L1600.6,759.6 L1608.9,748.2 L1611.2,766.7 L1614.8,783.3 L1617.6,764.3 L1621.9,770.3 L1627.8,775.0 L1633.8,779.8 L1636.1,769.1 L1638.5,777.4 L1640.4,780.9 L1642.1,818.9 L1646.8,837.9 L1651.6,856.8 L1654.6,859.2 L1657.5,851.6 L1660.3,864.0 L1664.1,874.6 L1673.6,872.3 L1676.0,859.2 L1678.8,846.2 L1682.4,853.3 L1684.8,845.0 L1695.0,839.1 L1697.8,856.8 L1700.7,855.7 L1704.9,871.1 L1709.7,884.1 L1716.3,901.4 L1719.2,886.5 L1722.2,878.2 L1725.8,887.2 L1728.2,853.3 L1731.0,842.6 L1737.6,824.8 L1742.9,828.4 L1746.4,808.2 L1752.4,799.9 L1761.4,783.8 L1765.4,791.6 L1767.8,764.3 L1770.8,733.5 L1782.0,724.0 L1785.1,722.8 L1789.8,696.0 L1793.9,696.8 L1802.2,701.5 L1804.5,716.9 L1808.1,744.2 L1811.6,756.0 L1823.0,773.8 L1827.8,775.0 L1830.1,759.6 L1833.0,778.6 L1835.8,833.1 L1844.8,854.5 L1848.4,866.3 L1852.0,868.7 L1856.2,925.6 L1857.2,922.5 L1860.5,926.6 L1866.1,929.4 L1870.2,943.2 L1873.0,969.5 L1878.5,995.8 L1888.2,995.8 L1890.4,1012.4 L1893.7,1022.1 L1897.9,1039.3 L1902.0,1040.9 L1913.1,1038.7 L1917.3,1027.6 L1921.4,1001.3 L1932.5,977.8 L1936.6,958.5 L1943.0,987.5 L1951.9,988.9 L1956.0,994.4 L1960.2,958.5 L1964.3,933.5 L1974.0,922.5 L1978.2,900.3 L1985.1,856.1 L1996.1,869.9 L1998.4,882.3 L2001.7,875.4 L2004.4,886.5 L2007.2,910.0 L2018.3,885.1 L2021.1,881.0 L2023.8,867.1 L2026.6,833.9 L2029.4,791.0 L2036.3,767.5 L2039.0,757.8 L2041.3,727.4 L2044.6,738.4 L2048.7,755.0 L2050.9,777.2 L2056.5,789.6 L2063.9,807.6 L2066.7,809.0 L2072.3,856.1 L2081.9,845.0 L2084.2,822.8 L2086.9,835.3 L2090.2,825.6 L2093.0,804.9 L2098.5,811.8 L2103.5,818.7 L2106.8,828.4 L2109.6,867.1 L2113.8,955.7 L2124.8,1011.0 L2125.9,1039.1 L2126.9,1066.7 L2129.2,1090.4 L2132.8,1089.4 L2135.8,1111.2 L2146.2,1097.4 L2148.6,1082.1 L2151.6,1087.5 L2155.5,1091.4 L2158.5,1096.4 L2167.4,1103.3 L2168.8,1135.9 L2169.9,1142.8 L2173.3,1136.9 L2175.3,1172.5 L2178.2,1169.5 L2191.1,1185.3 L2193.1,1167.5 L2195.0,1158.6 L2200.0,1143.8 L2203.9,1140.8 L2209.9,1135.9 L2212.8,1127.0 L2215.8,1106.2 L2218.8,1105.3 L2222.7,1114.2 L2229.6,1098.3 L2234.6,1089.4 L2237.5,1101.3 L2240.5,1094.4 L2242.5,1081.5 L2243.5,1069.7 L2249.4,1066.7 L2254.3,1063.8 L2257.3,1064.7 L2258.3,1027.2 L2261.6,1035.1 L2264.2,1005.5 L2276.1,1016.3 L2278.0,1018.3 L2280.0,1028.2 L2285.9,1039.1 L2290.9,1041.0 L2295.8,1044.0 L2298.8,1030.2 L2301.8,1046.0 L2307.7,1027.2 L2316.6,992.6 L2320.5,1004.5 L2324.5,1025.2 L2329.4,1058.8 L2335.4,1054.9 L2339.3,1050.9 L2341.9,1023.2 L2344.2,977.8 L2347.8,963.0 L2350.2,983.7 L2351.8,995.6 L2356.1,1000.5 L2364.0,1008.4 L2366.0,1030.2 L2369.9,1027.2 L2373.9,1023.2 L2380.8,1018.3 L2383.8,1013.4 L2386.7,1011.4 L2388.7,1027.2 L2390.7,1055.4 L2393.6,1061.3 L2403.1,1060.8 L2406.7,1098.1 L2409.1,1110.6 L2413.8,1106.4 L2415.0,1077.9 L2424.5,1067.9 L2427.4,1065.5 L2431.0,1101.7 L2432.8,1134.9 L2434.0,1152.6 L2436.9,1156.2 L2450.0,1146.1 L2452.3,1133.7 L2454.7,1112.3 L2458.3,1106.4 L2467.7,1111.1 L2471.3,1101.7 L2473.7,1075.6 L2476.6,1066.1 L2479.6,1040.0 L2483.0,1026.1 L2486.3,1011.1 L2488.8,999.5 L2492.1,1011.1 L2493.8,987.9 L2497.1,973.0 L2500.4,970.5 L2510.4,977.9 L2512.9,969.6 L2517.0,970.5 L2519.5,959.7 L2522.0,937.3 L2526.2,933.1 L2532.8,929.0 L2534.1,915.7 L2537.0,917.4 L2540.8,914.0 L2544.4,919.8 L2546.9,914.9 L2553.6,904.9 L2556.9,919.8 L2561.0,951.4 L2566.0,963.0 L2577.6,979.6 L2580.9,1002.8 L2588.4,982.9 L2595.9,962.2 L2602.5,989.6 L2608.3,972.1 L2617.5,992.1 L2620.0,984.6 L2623.3,985.4 L2628.3,979.6 L2630.4,952.1" fill="none" stroke="#4169e1" stroke-width="5.85" stroke-linejoin="round" stroke-linecap="butt"/>
<line x1="180.5" y1="183.8" x2="180.5" y2="1251" stroke="#bfbfbf" stroke-width="3"/>
<line x1="179" y1="1249.5" x2="2641" y2="1249.5" stroke="#bfbfbf" stroke-width="3"/>
<line x1="165.4" y1="196.5" x2="180" y2="196.5" stroke="#000" stroke-width="3.33"/>
<text x="150.8" y="208.3" text-anchor="end" font-family='"Liberation Sans", sans-serif' font-size="33.33" fill="#000">140,000</text>
<line x1="165.4" y1="373.9" x2="180" y2="373.9" stroke="#000" stroke-width="3.33"/>
<text x="150.8" y="385.7" text-anchor="end" font-family='"Liberation Sans", sans-serif' font-size="33.33" fill="#000">120,000</text>
<line x1="165.4" y1="551.3" x2="180" y2="551.3" stroke="#000" stroke-width="3.33"/>
<text x="150.8" y="563.1" text-anchor="end" font-family='"Liberation Sans", sans-serif' font-size="33.33" fill="#000">100,000</text>
<line x1="165.4" y1="728.7" x2="180" y2="728.7" stroke="#000" stroke-width="3.33"/>
<text x="150.8" y="740.5" text-anchor="end" font-family='"Liberation Sans", sans-serif' font-size="33.33" fill="#000">80,000</text>
<line x1="165.4" y1="906.1" x2="180" y2="906.1" stroke="#000" stroke-width="3.33"/>
<text x="150.8" y="917.9" text-anchor="end" font-family='"Liberation Sans", sans-serif' font-size="33.33" fill="#000">60,000</text>
<line x1="165.4" y1="1083.5" x2="180" y2="1083.5" stroke="#000" stroke-width="3.33"/>
<text x="150.8" y="1095.3" text-anchor="end" font-family='"Liberation Sans", sans-serif' font-size="33.33" fill="#000">40,000</text>
<line x1="2836" y1="228.1" x2="2850.6" y2="228.1" stroke="#000" stroke-width="3.33"/>
<text x="2865.6" y="241.1" font-family='"Liberation Sans", sans-serif' font-size="33.33" fill="#000">20,000</text>
<line x1="2836" y1="421.5" x2="2850.6" y2="421.5" stroke="#000" stroke-width="3.33"/>
<text x="2865.6" y="434.5" font-family='"Liberation Sans", sans-serif' font-size="33.33" fill="#000">15,000</text>
<line x1="2836" y1="614.9" x2="2850.6" y2="614.9" stroke="#000" stroke-width="3.33"/>
<text x="2865.6" y="627.9" font-family='"Liberation Sans", sans-serif' font-size="33.33" fill="#000">10,000</text>
<line x1="2836" y1="808.4" x2="2850.6" y2="808.4" stroke="#000" stroke-width="3.33"/>
<text x="2865.6" y="821.4" font-family='"Liberation Sans", sans-serif' font-size="33.33" fill="#000">5,000</text>
<line x1="2836" y1="1001.8" x2="2850.6" y2="1001.8" stroke="#000" stroke-width="3.33"/>
<text x="2865.6" y="1014.8" font-family='"Liberation Sans", sans-serif' font-size="33.33" fill="#000">0</text>
<line x1="2836" y1="1195.2" x2="2850.6" y2="1195.2" stroke="#000" stroke-width="3.33"/>
<text x="2865.6" y="1208.2" font-family='"Liberation Sans", sans-serif' font-size="33.33" fill="#000">-5,000</text>
<line x1="343.5" y1="1251" x2="343.5" y2="1264.6" stroke="#000" stroke-width="3.33"/>
<text x="343.5" y="1302.3" text-anchor="middle" font-family='"Liberation Sans", sans-serif' font-size="33.33" fill="#000">2024-04</text>
<line x1="622.5" y1="1251" x2="622.5" y2="1264.6" stroke="#000" stroke-width="3.33"/>
<text x="622.5" y="1302.3" text-anchor="middle" font-family='"Liberation Sans", sans-serif' font-size="33.33" fill="#000">2024-07</text>
<line x1="904.5" y1="1251" x2="904.5" y2="1264.6" stroke="#000" stroke-width="3.33"/>
<text x="904.5" y="1302.3" text-anchor="middle" font-family='"Liberation Sans", sans-serif' font-size="33.33" fill="#000">2024-10</text>
<line x1="1186.6" y1="1251" x2="1186.6" y2="1264.6" stroke="#000" stroke-width="3.33"/>
<text x="1186.6" y="1302.3" text-anchor="middle" font-family='"Liberation Sans", sans-serif' font-size="33.33" fill="#000">2025-01</text>
<line x1="1462.5" y1="1251" x2="1462.5" y2="1264.6" stroke="#000" stroke-width="3.33"/>
<text x="1462.5" y="1302.3" text-anchor="middle" font-family='"Liberation Sans", sans-serif' font-size="33.33" fill="#000">2025-04</text>
<line x1="1741.5" y1="1251" x2="1741.5" y2="1264.6" stroke="#000" stroke-width="3.33"/>
<text x="1741.5" y="1302.3" text-anchor="middle" font-family='"Liberation Sans", sans-serif' font-size="33.33" fill="#000">2025-07</text>
<line x1="2023.6" y1="1251" x2="2023.6" y2="1264.6" stroke="#000" stroke-width="3.33"/>
<text x="2023.6" y="1302.3" text-anchor="middle" font-family='"Liberation Sans", sans-serif' font-size="33.33" fill="#000">2025-10</text>
<line x1="2305.6" y1="1251" x2="2305.6" y2="1264.6" stroke="#000" stroke-width="3.33"/>
<text x="2305.6" y="1302.3" text-anchor="middle" font-family='"Liberation Sans", sans-serif' font-size="33.33" fill="#000">2026-01</text>
<line x1="2581.5" y1="1251" x2="2581.5" y2="1264.6" stroke="#000" stroke-width="3.33"/>
<text x="2581.5" y="1302.3" text-anchor="middle" font-family='"Liberation Sans", sans-serif' font-size="33.33" fill="#000">2026-04</text>
<rect x="197" y="201" width="713" height="58" rx="6" ry="6" fill="#ffffff" fill-opacity="0.95" stroke="#cccccc" stroke-width="3.5"/>
<line x1="207" y1="226.8" x2="280" y2="226.8" stroke="#383c48" stroke-width="5.85"/>
<line x1="467" y1="226.8" x2="540" y2="226.8" stroke="#4169e1" stroke-width="5.85"/>
<text x="303.8" y="240.3" font-family='"Liberation Sans", sans-serif' font-size="33.33" fill="#000">Bitcoin</text>
<text x="563.4" y="240.3" font-family='"Liberation Sans", sans-serif' font-size="33.33" fill="#000">Cumulative ETF Flows</text>
<circle cx="2639.3" cy="773.1" r="11.3" fill="#383c48"/>
<circle cx="2630.4" cy="952.1" r="11.3" fill="#4169e1"/>
<rect x="2664.1" y="745.5" width="144.5" height="55.3" rx="10" ry="10" fill="#e6e5e4"/>
<text x="2676.9" y="784.2" font-family='"Liberation Sans", sans-serif' font-size="33.33" fill="#000">$74,917</text>
<rect x="2664.1" y="923.7" width="153.8" height="55.3" rx="10" ry="10" fill="#e6e5e4"/>
<text x="2676.9" y="961.3" font-family='"Liberation Sans", sans-serif' font-size="33.33" fill="#000">$1,300M</text>
<text x="179.6" y="1400.1" font-family='"Liberation Sans", sans-serif' font-size="33.33" fill="#808080">Database:</text>
<text x="179.6" y="1436.0" font-family='"Liberation Sans", sans-serif' font-size="33.33" fill="#808080">Bloomberg Finance L.P.</text>
<text x="2886.8" y="1402.5" text-anchor="end" font-family='"Liberation Sans", sans-serif' font-weight="bold" font-size="33.33" fill="#000">Source: XTB Research</text>
</svg>
</body></html>
